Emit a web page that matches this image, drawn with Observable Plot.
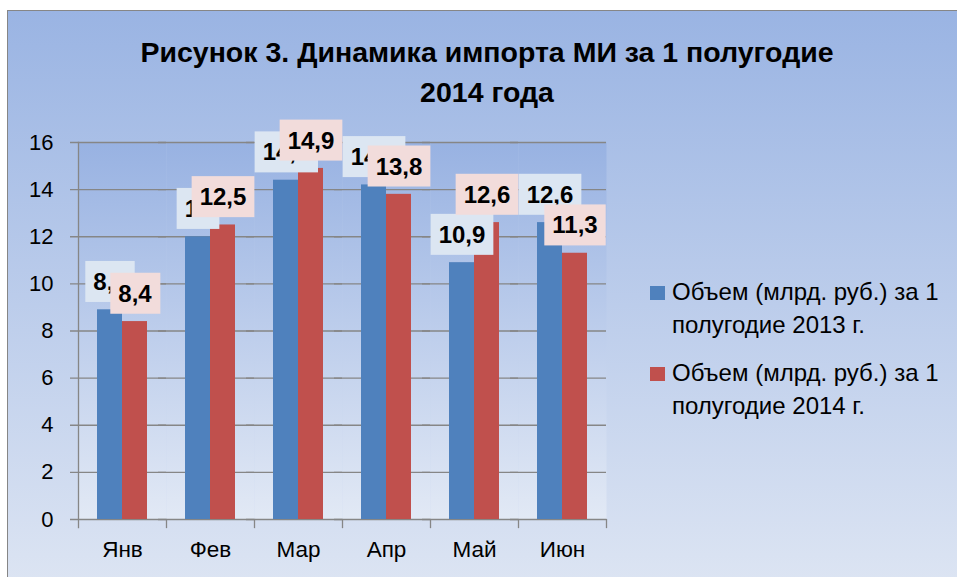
<!DOCTYPE html>
<html>
<head>
<meta charset="utf-8">
<script src="https://cdn.jsdelivr.net/npm/d3@7"></script>
<script src="https://cdn.jsdelivr.net/npm/@observablehq/plot@0.6"></script>
<style>
html, body { margin: 0; padding: 0; background: #ffffff; }
#wrap { position: relative; width: 957px; height: 577px; overflow: hidden; font-family: "Liberation Sans", Arial, sans-serif; color: #000; }
#bg { position: absolute; left: 7px; top: 10px; width: 970px; height: 580px; box-sizing: border-box;
      background: linear-gradient(to bottom, #9ab4e3 0%, #dde5f3 100%);
      border-left: 1.5px solid #868686; border-top: 1.5px solid #868686; }
#chart { position: absolute; left: 0; top: 0; }
#title { position: absolute; left: 0; width: 974px; top: 32px; text-align: center; font-weight: bold; font-size: 28.5px; line-height: 40px; }
.leg { position: absolute; left: 672px; font-size: 24px; line-height: 33px; white-space: nowrap; }
.sw { position: absolute; left: 650px; width: 15px; height: 14px; }
</style>
</head>
<body>
<div id="wrap">
  <div id="bg"></div>
  <div id="chart"></div>
  <div id="title"></div>
  <div id="legend"></div>
</div>
<script>
const titleLines = ["Рисунок 3. Динамика импорта МИ за 1 полугодие", "2014 года"];
const months = ["Янв", "Фев", "Мар", "Апр", "Май", "Июн"];
const seriesNames = ["Объем (млрд. руб.) за 1 полугодие 2013 г.", "Объем (млрд. руб.) за 1 полугодие 2014 г."];
const legendLines = [["Объем (млрд. руб.) за 1", "полугодие 2013 г."], ["Объем (млрд. руб.) за 1", "полугодие 2014 г."]];
const values2013 = [8.9, 12, 14.4, 14.2, 10.9, 12.6];
const values2014 = [8.4, 12.5, 14.9, 13.8, 12.6, 11.3];
const yTicks = [0, 2, 4, 6, 8, 10, 12, 14, 16];
const barColors = ["#4f81bd", "#c0504d"];
const labelFills = ["#dce6f2", "#f2dcdb"];

const rows = months.flatMap((m, i) => [
  {month: m, series: seriesNames[0], value: values2013[i]},
  {month: m, series: seriesNames[1], value: values2014[i]}
]);
const fmt = v => String(v).replace(".", ",");

document.getElementById("title").innerHTML = titleLines.join("<br>");
const legend = document.getElementById("legend");
const legTops = [275, 356];
legendLines.forEach((lines, k) => {
  const sw = document.createElement("div");
  sw.className = "sw";
  sw.style.top = (legTops[k] + 11) + "px";
  sw.style.background = barColors[k];
  legend.appendChild(sw);
  const t = document.createElement("div");
  t.className = "leg";
  t.style.top = legTops[k] + "px";
  t.innerHTML = lines.join("<br>");
  legend.appendChild(t);
});

const grid = "#868686";
const chart = Plot.plot({
  width: 957,
  height: 577,
  marginLeft: 77,
  marginRight: 350,
  marginTop: 142,
  marginBottom: 58,
  style: {background: "transparent", fontFamily: "'Liberation Sans', Arial, sans-serif", color: "#000", overflow: "visible"},
  fx: {domain: months, padding: 0, label: null},
  x: {domain: seriesNames, paddingInner: 0, paddingOuter: 0.75, axis: null},
  y: {domain: [0, 16], label: null},
  color: {domain: seriesNames, range: barColors},
  marks: [
    Plot.frame({fill: "url(#plotGrad)", stroke: "none"}),
    Plot.ruleY(yTicks, {stroke: grid, strokeWidth: 1.3, insetLeft: -8}),
    Plot.frame({anchor: "left", facetAnchor: "left", stroke: grid, strokeWidth: 1.3, insetBottom: -8}),
    Plot.frame({anchor: "right", stroke: grid, strokeWidth: 1.3, insetTop: 377, insetBottom: -8}),
    Plot.barY(rows, {fx: "month", x: "series", y: "value", fill: "series"}),
    Plot.text(rows.filter(d => d.series === seriesNames[0]), {fx: "month", x: "series", y: "value", text: d => fmt(d.value), dy: -27.5, fontSize: 24, fontWeight: "bold", fill: "#000", className: "lab0"}),
    Plot.text(rows.filter(d => d.series === seriesNames[1]), {fx: "month", x: "series", y: "value", text: d => fmt(d.value), dy: -27.5, fontSize: 24, fontWeight: "bold", fill: "#000", className: "lab1"}),
    Plot.axisY({ticks: yTicks, tickSize: 0, tickPadding: 25, fontSize: 22, facetAnchor: "left", label: null}),
    Plot.axisFx({anchor: "bottom", tickSize: 0, tickPadding: 22, fontSize: 22.5, label: null})
  ]
});
document.getElementById("chart").appendChild(chart);

const svg = d3.select(chart);
svg.insert("defs", ":first-child").html(
  '<linearGradient id="plotGrad" x1="0" y1="0" x2="0" y2="1">' +
  '<stop offset="0" stop-color="#98b2e2"/><stop offset="1" stop-color="#e2e9f5"/></linearGradient>'
);

[0, 1].forEach(k => {
  chart.querySelectorAll("g.lab" + k + " text").forEach(t => {
    const bb = t.getBBox();
    const r = document.createElementNS("http://www.w3.org/2000/svg", "rect");
    const tr = t.getAttribute("transform");
    if (tr) r.setAttribute("transform", tr);
    const cy = bb.y + bb.height / 2;
    r.setAttribute("x", bb.x - 8);
    r.setAttribute("y", cy - 20.5);
    r.setAttribute("width", bb.width + 16);
    r.setAttribute("height", 41);
    r.setAttribute("fill", labelFills[k]);
    r.setAttribute("stroke", "none");
    t.parentNode.insertBefore(r, t);
  });
});
</script>
</body>
</html>
